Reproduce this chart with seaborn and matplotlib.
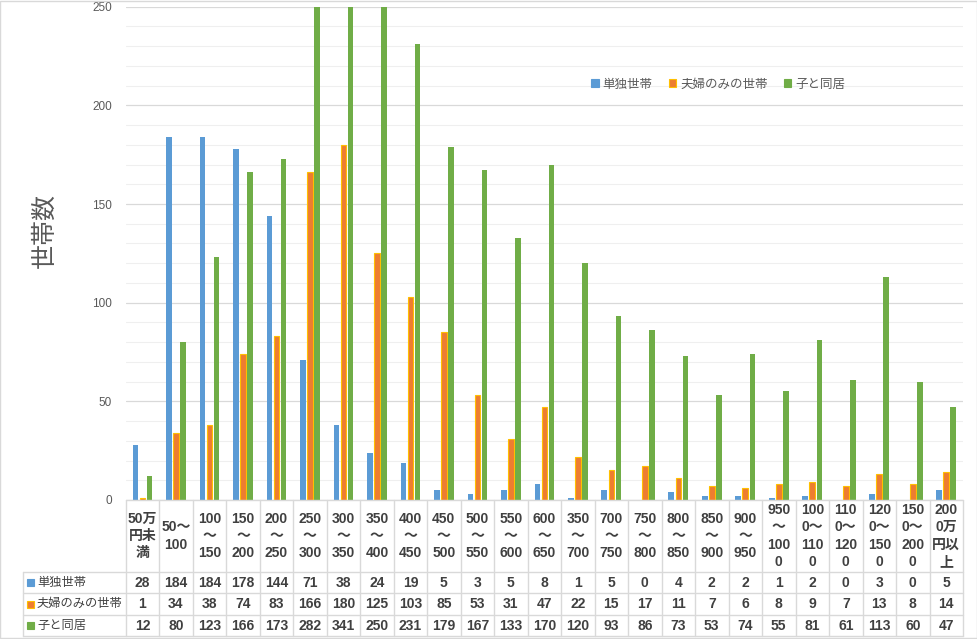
import pandas as pd
import seaborn as sns
import matplotlib.pyplot as plt
import matplotlib.transforms as mtransforms
from matplotlib.patches import Patch, Rectangle

categories = [
    "50万\n円未\n満", "50～\n100", "100\n～\n150", "150\n～\n200", "200\n～\n250",
    "250\n～\n300", "300\n～\n350", "350\n～\n400", "400\n～\n450", "450\n～\n500",
    "500\n～\n550", "550\n～\n600", "600\n～\n650", "350\n～\n700", "700\n～\n750",
    "750\n～\n800", "800\n～\n850", "850\n～\n900", "900\n～\n950", "950\n～\n100\n0",
    "100\n0～\n110\n0", "110\n0～\n120\n0", "120\n0～\n150\n0", "150\n0～\n200\n0",
    "200\n0万\n円以\n上",
]
series_names = ["単独世帯", "夫婦のみの世帯", "子と同居"]
single = [28, 184, 184, 178, 144, 71, 38, 24, 19, 5, 3, 5, 8, 1, 5, 0, 4, 2, 2, 1, 2, 0, 3, 0, 5]
couple = [1, 34, 38, 74, 83, 166, 180, 125, 103, 85, 53, 31, 47, 22, 15, 17, 11, 7, 6, 8, 9, 7, 13, 8, 14]
with_child = [12, 80, 123, 166, 173, 282, 341, 250, 231, 179, 167, 133, 170, 120, 93, 86, 73, 53, 74, 55, 81, 61, 113, 60, 47]
y_ticks = [0, 50, 100, 150, 200, 250]

colors = ["#5B9BD5", "#ED7D31", "#70AD47"]
edge_colors = ["#5B9BD5", "#FFC000", "#70AD47"]
text_color = "#404040"
line_color = "#D9D9D9"

series_values = [single, couple, with_child]
df = pd.DataFrame({
    "区分": categories * 3,
    "系列": [s for s in series_names for _ in categories],
    "世帯数": single + couple + with_child,
})

sns.set_theme(style="white")
plt.rcParams["font.family"] = ["Liberation Sans", "Noto Sans CJK JP"]

W, H = 978, 639
fig = plt.figure(figsize=(W / 100, H / 100), dpi=100)


def fx(x):
    return x / W


def fy(y):
    return 1 - y / H


ax_left, ax_right, ax_top, ax_bottom = 125.7, 963, 6.7, 500
ax = fig.add_axes([fx(ax_left), fy(ax_bottom), fx(ax_right - ax_left), (ax_bottom - ax_top) / H])

sns.barplot(data=df, x="区分", y="世帯数", hue="系列", palette=colors, saturation=1,
            width=0.63, gap=0.2, linewidth=0, legend=False, ax=ax)
for patch in ax.containers[1]:
    patch.set_edgecolor("#FFC000")
    patch.set_linewidth(0.8)

ax.set_ylim(0, 250)
ax.set_xlim(-0.5, len(categories) - 0.5)
ax.set_yticks(y_ticks)
ax.set_yticks(range(0, 251, 10), minor=True)
ax.grid(which="minor", axis="y", color="#EFEFEF", lw=0.8)
ax.grid(which="major", axis="y", color=line_color, lw=0.9)
ax.set_axisbelow(True)
ax.tick_params(axis="y", which="both", length=0, pad=10, labelsize=8.5, labelcolor="#595959")
ax.set_xticks([])
ax.set_xlabel("")
ax.set_ylabel("")
for sp in ax.spines.values():
    sp.set_visible(False)

# legend
handles = [Patch(facecolor=c, edgecolor=e, lw=0.8) for c, e in zip(colors, edge_colors)]
ax.legend(handles, series_names, loc="center left", bbox_to_anchor=(0.556, 0.842),
          ncol=3, frameon=False, fontsize=9, handlelength=0.6, handleheight=0.6,
          handletextpad=0.3, columnspacing=1.3, borderpad=0, borderaxespad=0,
          labelcolor="#595959")

# y axis title
fig.text(fx(45), fy(230), "世帯数", rotation=90, ha="center", va="center",
         fontsize=18, color="#595959", family=["Noto Sans CJK JP"])

# data table under the axis
blend = mtransforms.blended_transform_factory(ax.transData, fig.transFigure)
n = len(categories)
row_tops = [572, 593.3, 615, 636]
table_left = 22.7

for i in range(n + 1):
    ax.plot([i - 0.5, i - 0.5], [fy(ax_bottom), fy(row_tops[-1])], transform=blend,
            color=line_color, lw=1, clip_on=False)
ax.plot([-0.5, n - 0.5], [fy(ax_bottom), fy(ax_bottom)], transform=blend,
        color=line_color, lw=1, clip_on=False)
for y in row_tops:
    fig.add_artist(plt.Line2D([fx(table_left), fx(ax_right)], [fy(y), fy(y)],
                              color=line_color, lw=1))
fig.add_artist(plt.Line2D([fx(table_left), fx(table_left)], [fy(row_tops[0]), fy(row_tops[-1])],
                          color=line_color, lw=1))

for i, cat in enumerate(categories):
    ax.text(i, fy((ax_bottom + row_tops[0]) / 2), cat, transform=blend, ha="center",
            va="center", fontsize=10, fontweight="bold", color=text_color,
            linespacing=1.3, clip_on=False)

for r, (name, vals) in enumerate(zip(series_names, series_values)):
    yc = (row_tops[r] + row_tops[r + 1]) / 2
    fig.add_artist(Rectangle((fx(27.5), fy(yc + 3.5)), fx(7), 7 / H, facecolor=colors[r],
                             edgecolor=edge_colors[r], lw=0.8))
    fig.text(fx(37), fy(yc), name, ha="left", va="center", fontsize=8.8, color=text_color)
    for i, v in enumerate(vals):
        ax.text(i, fy(yc), str(v), transform=blend, ha="center", va="center",
                fontsize=10, fontweight="bold", color=text_color, clip_on=False)

# chart border
fig.add_artist(Rectangle((0.0005, 0.0008), 0.998, 0.998, fill=False, edgecolor=line_color, lw=1))

fig.savefig("out.png", dpi=100)
